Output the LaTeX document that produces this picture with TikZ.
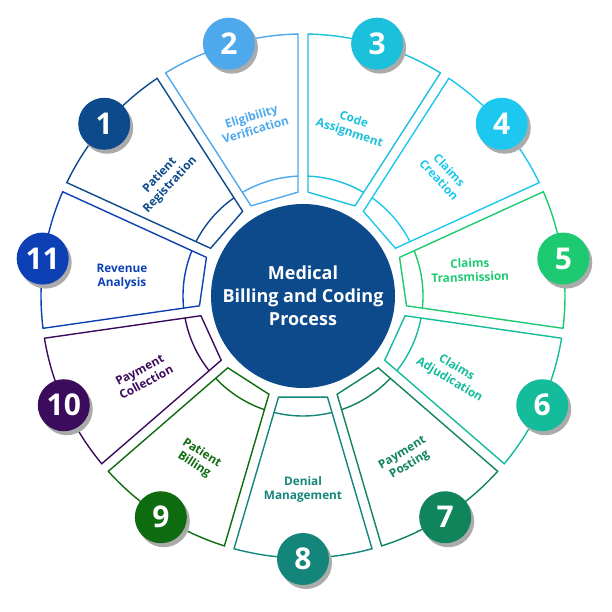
\documentclass[tikz,border=0pt]{standalone}
\usepackage{fontspec}
\setmainfont{Open Sans}
\definecolor{c1}{HTML}{0D4A8C}
\definecolor{c2}{HTML}{4DA8EC}
\definecolor{c3}{HTML}{1BC0DC}
\definecolor{c4}{HTML}{1DC8F0}
\definecolor{c5}{HTML}{1DC971}
\definecolor{c6}{HTML}{14BC9C}
\definecolor{c7}{HTML}{10845A}
\definecolor{c8}{HTML}{14857A}
\definecolor{c9}{HTML}{0F6B0F}
\definecolor{c10}{HTML}{3B0B5C}
\definecolor{c11}{HTML}{0D40B5}
\definecolor{hub}{HTML}{0D4A8C}
\begin{document}
\begin{tikzpicture}[x=1pt,y=1pt,
  segline/.style={line width=1.4pt},
  lab/.style={font=\bfseries\fontsize{11.8}{14}\selectfont, align=center, inner sep=0pt},
  num/.style={circle, minimum size=52pt, inner sep=0pt, text=white, font=\bfseries\fontsize{30}{30}\selectfont},
  shade/.style={fill=black!33}]
\useasboundingbox (0,0) rectangle (612,612);
\begin{scope}[shift={(303,316)}]
\foreach \k/\col in {1/c1,2/c2,3/c3,4/c4,5/c5,6/c6,7/c7,8/c8,9/c9,10/c10,11/c11}{
  \pgfmathsetmacro\A{90+(3-\k)*360/11}
  \pgfmathsetmacro\E{\A-360/11}
  \draw[segline, draw=\col] ({\A-1.094}:262) arc[start angle=\A-1.094, end angle=\E+1.094, radius=262]
     -- ({\E+2.756}:104) -- ({\A-2.756}:104) -- cycle;
  \draw[segline, draw=\col] ({\A-2.388}:120) arc[start angle=\A-2.388, end angle=\E+2.388, radius=120];
}
\node[circle, fill=hub, minimum size=184pt, inner sep=0pt] (hubc) at (0,0) {};
\node[text=white, font=\bfseries\fontsize{18}{23}\selectfont, align=center] (hubt) at (0,0) {Medical\\Billing and Coding\\Process};
\foreach \k/\col/\ang/\rad/\rot/\txt in {
  1/c1/140/180/47/Patient\\Registration,
  2/c2/106/180/17/Eligibility\\Verification,
  3/c3/74/176/-18/Code\\Assignment,
  4/c4/40.6/186/-47/Claims\\Creation,
  5/c5/8.8/169/2/Claims\\Transmission,
  6/c6/-27.5/169/-31/Claims\\Adjudication,
  7/c7/-57.7/193/31/Payment\\Posting,
  8/c8/-90/193/0/Denial\\Management,
  9/c9/-122.8/194/-33/Patient\\Billing,
  10/c10/-153.4/179/28/Payment\\Collection,
  11/c11/174/182/0/Revenue\\Analysis}{
  \node[lab, text=\col, rotate=\rot] (l\k) at (\ang:\rad) {\txt};
}
\foreach \k/\col in {1/c1,2/c2,3/c3,4/c4,5/c5,6/c6,7/c7,8/c8,9/c9,10/c10,11/c11}{
  \pgfmathsetmacro\M{90+(3-\k)*360/11-180/11}
  \fill[shade] ([xshift=3pt,yshift=-4pt]\M:263) circle (26);
  \node[num, fill=\col] (n\k) at (\M:263) {\k};
}
\end{scope}
\end{tikzpicture}
\end{document}
